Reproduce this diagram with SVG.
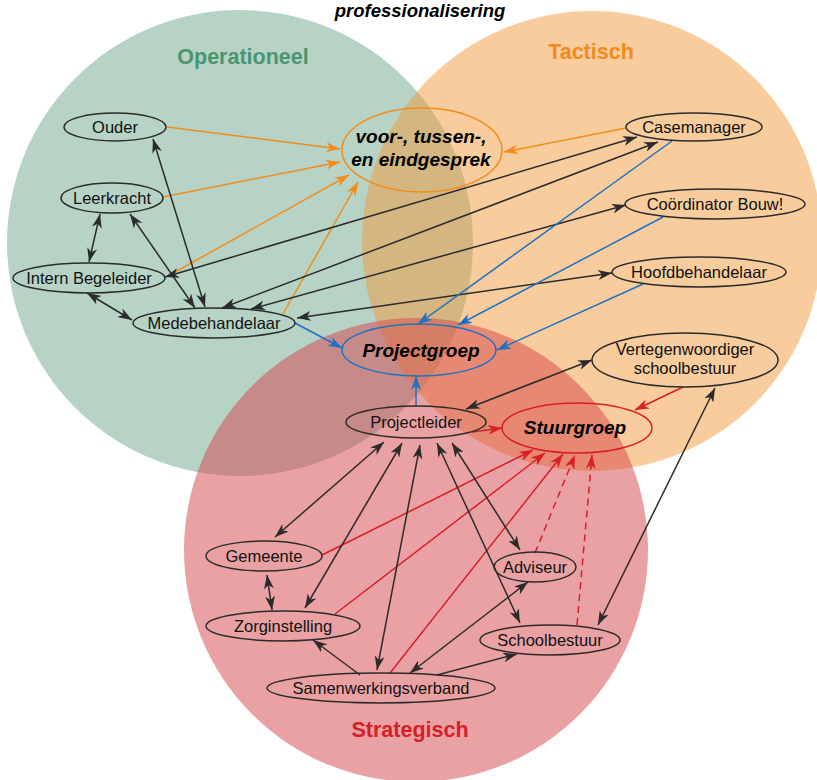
<svg xmlns="http://www.w3.org/2000/svg" width="817" height="780" viewBox="0 0 817 780">
<style>
.circ{fill-opacity:0.5}
.n ellipse{fill:none;stroke:#2b2b2b;stroke-width:1.5}
.n text{font-family:"Liberation Sans",Arial,sans-serif;font-size:16.5px;fill:#111;text-anchor:middle}
.bg text{font-family:"Liberation Sans",Arial,sans-serif;font-size:19px;font-weight:bold;font-style:italic;fill:#000;text-anchor:middle}
.lbl{font-family:"Liberation Sans",Arial,sans-serif;font-size:21.5px;font-weight:bold;text-anchor:middle}
.ttl{font-family:"Liberation Sans",Arial,sans-serif;font-size:18.5px;font-weight:bold;font-style:italic;text-anchor:middle;fill:#000}
#edges line,#edges path{fill:none;stroke-width:1.5}
.k{stroke:#2b2b2b;marker-end:url(#ak)}
.kk{stroke:#2b2b2b;marker-start:url(#ak);marker-end:url(#ak)}
.o{stroke:#f28c1c;marker-end:url(#ao)}
.b{stroke:#1f72c1;marker-end:url(#ab)}
.r{stroke:#d71f26;marker-end:url(#ar)}
.rd{stroke:#d71f26;stroke-dasharray:7 5;marker-end:url(#ar)}
</style>
<defs>
<marker id="ak" viewBox="0 0 14 10" markerWidth="14" markerHeight="10" refX="14" refY="5" markerUnits="userSpaceOnUse" orient="auto-start-reverse"><path d="M0,0 L14,5 L0,10 L4,5 Z" fill="#2b2b2b"/></marker>
<marker id="ao" viewBox="0 0 14 10" markerWidth="14" markerHeight="10" refX="14" refY="5" markerUnits="userSpaceOnUse" orient="auto-start-reverse"><path d="M0,0 L14,5 L0,10 L4,5 Z" fill="#f28c1c"/></marker>
<marker id="ab" viewBox="0 0 14 10" markerWidth="14" markerHeight="10" refX="14" refY="5" markerUnits="userSpaceOnUse" orient="auto-start-reverse"><path d="M0,0 L14,5 L0,10 L4,5 Z" fill="#1f72c1"/></marker>
<marker id="ar" viewBox="0 0 14 10" markerWidth="14" markerHeight="10" refX="14" refY="5" markerUnits="userSpaceOnUse" orient="auto-start-reverse"><path d="M0,0 L14,5 L0,10 L4,5 Z" fill="#d71f26"/></marker>
</defs>
<rect width="817" height="780" fill="#fff"/>
<g id="circles">
<circle class="circ" cx="240" cy="243" r="233" fill="#6da78d"/>
<circle class="circ" cx="592" cy="241" r="230" fill="#f1993b"/>
<circle class="circ" cx="416" cy="550" r="232" fill="#d54349"/>
</g>
<text class="ttl" x="420" y="17">professionalisering</text>
<text class="lbl" x="243" y="64" fill="#4a9572">Operationeel</text>
<text class="lbl" x="591" y="59" fill="#f08a1d">Tactisch</text>
<text class="lbl" x="410" y="737" fill="#d42027">Strategisch</text>
<g id="edges">
<line class="o" x1="167" y1="127" x2="340" y2="149"/>
<line class="o" x1="163" y1="197" x2="340" y2="162"/>
<line class="o" x1="168" y1="276" x2="349" y2="175"/>
<line class="o" x1="283" y1="314" x2="358" y2="182"/>
<line class="o" x1="626" y1="128" x2="504" y2="152"/>
<line class="kk" x1="153" y1="139" x2="205" y2="307"/>
<line class="kk" x1="130" y1="214" x2="195" y2="308"/>
<line class="kk" x1="100" y1="214" x2="89" y2="262"/>
<line class="kk" x1="87" y1="293" x2="132" y2="320"/>
<line class="kk" x1="165" y1="277" x2="637" y2="137"/>
<line class="kk" x1="222" y1="308" x2="658" y2="142"/>
<line class="kk" x1="251" y1="309" x2="626" y2="205"/>
<line class="kk" x1="297" y1="318" x2="612" y2="273"/>
<line class="b" x1="295" y1="323" x2="342" y2="348"/>
<line class="b" x1="672" y1="141" x2="418" y2="324"/>
<line class="b" x1="663" y1="217" x2="458" y2="325"/>
<line class="b" x1="643" y1="284" x2="497" y2="350"/>
<line class="b" x1="416" y1="406" x2="416" y2="376"/>
<line class="kk" x1="466" y1="409" x2="592" y2="360"/>
<line class="kk" x1="715" y1="388" x2="598" y2="625"/>
<line class="r" x1="683" y1="387" x2="635" y2="410"/>
<line class="r" x1="472" y1="432" x2="502" y2="428"/>
<line class="r" x1="322" y1="555" x2="533" y2="450"/>
<line class="r" x1="335" y1="614" x2="545" y2="453"/>
<line class="r" x1="390" y1="673" x2="563" y2="454"/>
<line class="rd" x1="535" y1="553" x2="575" y2="455"/>
<line class="rd" x1="577" y1="625" x2="592" y2="455"/>
<line class="kk" x1="384" y1="442" x2="275" y2="537"/>
<line class="kk" x1="402" y1="443" x2="305" y2="608"/>
<line class="kk" x1="420" y1="445" x2="377" y2="670"/>
<line class="kk" x1="437" y1="443" x2="520" y2="623"/>
<line class="kk" x1="452" y1="443" x2="520" y2="550"/>
<line class="kk" x1="267" y1="575" x2="272" y2="610"/>
<line class="k" x1="360" y1="675" x2="313" y2="640"/>
<line class="kk" x1="410" y1="673" x2="528" y2="582"/>
<line class="k" x1="437" y1="675" x2="517" y2="654"/>
</g>
<g id="ouder" class="n"><ellipse cx="115" cy="127" rx="51" ry="14"/><text x="115" y="133">Ouder</text></g>
<g id="leerkracht" class="n"><ellipse cx="112" cy="198" rx="51" ry="15"/><text x="112" y="204">Leerkracht</text></g>
<g id="intern-begeleider" class="n"><ellipse cx="89" cy="278" rx="76" ry="15"/><text x="89" y="284">Intern Begeleider</text></g>
<g id="medebehandelaar" class="n"><ellipse cx="214" cy="323" rx="81" ry="15"/><text x="214" y="329">Medebehandelaar</text></g>
<g id="gesprek" class="bg"><ellipse cx="422" cy="150" rx="80" ry="42" fill="none" stroke="#f28c1c" stroke-width="1.5"/><text x="421" y="143">voor-, tussen-,</text><text x="421" y="166">en eindgesprek</text></g>
<g id="casemanager" class="n"><ellipse cx="694" cy="127" rx="68" ry="14"/><text x="694" y="133">Casemanager</text></g>
<g id="coordinator" class="n"><ellipse cx="715" cy="204" rx="90" ry="15"/><text x="715" y="210">Coördinator Bouw!</text></g>
<g id="hoofdbehandelaar" class="n"><ellipse cx="699" cy="272" rx="87" ry="15"/><text x="699" y="278">Hoofdbehandelaar</text></g>
<g id="projectgroep" class="bg"><ellipse cx="419" cy="350" rx="77" ry="26" fill="none" stroke="#1f72c1" stroke-width="1.5"/><text x="421" y="357">Projectgroep</text></g>
<g id="vertegenwoordiger" class="n"><ellipse cx="685" cy="360" rx="93" ry="27"/><text x="685" y="355">Vertegenwoordiger</text><text x="685" y="374">schoolbestuur</text></g>
<g id="projectleider" class="n"><ellipse cx="416" cy="422" rx="70" ry="16"/><text x="416" y="428">Projectleider</text></g>
<g id="stuurgroep" class="bg"><ellipse cx="577" cy="428" rx="75" ry="25" fill="none" stroke="#d71f26" stroke-width="1.5"/><text x="575" y="434">Stuurgroep</text></g>
<g id="gemeente" class="n"><ellipse cx="264" cy="556" rx="58" ry="15"/><text x="264" y="562">Gemeente</text></g>
<g id="zorginstelling" class="n"><ellipse cx="283" cy="626" rx="77" ry="15"/><text x="283" y="632">Zorginstelling</text></g>
<g id="samenwerkingsverband" class="n"><ellipse cx="381" cy="688" rx="114" ry="15"/><text x="381" y="694">Samenwerkingsverband</text></g>
<g id="adviseur" class="n"><ellipse cx="535" cy="567" rx="41" ry="15"/><text x="535" y="573">Adviseur</text></g>
<g id="schoolbestuur" class="n"><ellipse cx="550" cy="640" rx="70" ry="15"/><text x="550" y="646">Schoolbestuur</text></g>
</svg>
